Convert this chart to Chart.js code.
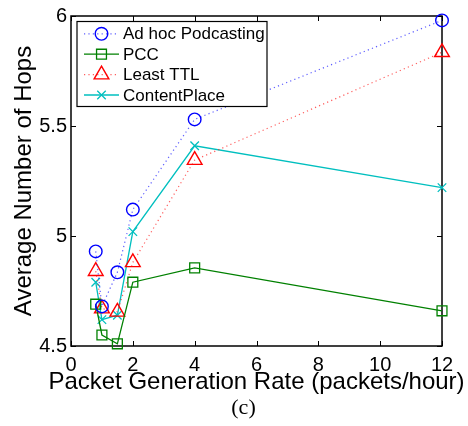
<!DOCTYPE html>
<html>
<head>
<meta charset="utf-8">
<script src="https://cdn.jsdelivr.net/npm/chart.js"></script>
<style>
  html, body { margin: 0; padding: 0; background: #fff; }
  canvas { display: block; }
</style>
</head>
<body>
<canvas id="hops" width="468" height="426"></canvas>
<script>
// packets per hour
const rates = [0.8, 1, 1.5, 2, 4, 12];

const adHocPodcasting = [4.93, 4.68, 4.835, 5.12, 5.53, 5.98];
const pcc = [4.69, 4.55, 4.51, 4.79, 4.855, 4.66];
const leastTTL = [4.84, 4.67, 4.655, 4.88, 5.345, 5.835];
const contentPlace = [4.79, 4.62, 4.64, 5.02, 5.41, 5.22];

const xTicks = [0, 2, 4, 6, 8, 10, 12];
const yTicks = [4.5, 5, 5.5, 6];

const toPoints = (vals) => rates.map((r, i) => ({x: r, y: vals[i]}));

const FONT = '"Liberation Sans", Arial, sans-serif';

// open markers, same geometry as Chart.js point styles
function drawMarker(ctx, style, r, x, y) {
  ctx.beginPath();
  if (style === 'circle') {
    ctx.arc(x, y, r, 0, Math.PI * 2);
  } else if (style === 'rect') {
    const s = r * Math.SQRT1_2;
    ctx.rect(x - s, y - s, 2 * s, 2 * s);
  } else if (style === 'triangle') {
    ctx.moveTo(x, y - r);
    ctx.lineTo(x + r * Math.cos(Math.PI / 6), y + r / 2);
    ctx.lineTo(x - r * Math.cos(Math.PI / 6), y + r / 2);
    ctx.closePath();
  } else if (style === 'crossRot') {
    const o = r * Math.SQRT1_2;
    ctx.moveTo(x - o, y - o); ctx.lineTo(x + o, y + o);
    ctx.moveTo(x - o, y + o); ctx.lineTo(x + o, y - o);
  }
  ctx.stroke();
}

const matlabLook = {
  id: 'matlabLook',
  beforeDatasetsDraw(chart) {
    const {ctx, chartArea: a, scales: {x, y}} = chart;
    ctx.save();
    ctx.strokeStyle = '#000';
    ctx.lineWidth = 1.5;
    ctx.strokeRect(a.left, a.top, a.right - a.left, a.bottom - a.top);
    ctx.lineWidth = 1;
    ctx.beginPath();
    xTicks.forEach(v => {
      const px = Math.round(x.getPixelForValue(v)) + 0.5;
      ctx.moveTo(px, a.bottom); ctx.lineTo(px, a.bottom - 5);
      ctx.moveTo(px, a.top); ctx.lineTo(px, a.top + 5);
    });
    yTicks.forEach(v => {
      const py = Math.round(y.getPixelForValue(v)) + 0.5;
      ctx.moveTo(a.left, py); ctx.lineTo(a.left + 5, py);
      ctx.moveTo(a.right, py); ctx.lineTo(a.right - 5, py);
    });
    ctx.stroke();
    ctx.restore();
  },
  afterDatasetsDraw(chart) {
    const {ctx, chartArea: a} = chart;
    const bx = a.left + 6, by = a.top + 5.5, bw = 190, bh = 85;
    ctx.save();
    ctx.fillStyle = '#fff';
    ctx.fillRect(bx, by, bw, bh);
    ctx.strokeStyle = '#000';
    ctx.lineWidth = 1.2;
    ctx.strokeRect(bx, by, bw, bh);
    chart.data.datasets.forEach((ds, i) => {
      const cy = by + 12.3 + i * 20.4;
      ctx.strokeStyle = ds.borderColor;
      ctx.lineWidth = ds.borderWidth;
      ctx.setLineDash(ds.borderDash || []);
      ctx.beginPath();
      ctx.moveTo(bx + 7, cy); ctx.lineTo(bx + 42, cy);
      ctx.stroke();
      ctx.setLineDash([]);
      ctx.strokeStyle = ds.pointBorderColor;
      ctx.lineWidth = ds.pointBorderWidth;
      drawMarker(ctx, ds.pointStyle, ds.pointRadius, bx + 24.5, cy);
      ctx.fillStyle = '#000';
      ctx.font = '17px ' + FONT;
      ctx.textBaseline = 'middle';
      ctx.textAlign = 'left';
      ctx.fillText(ds.label, bx + 46, cy + 1);
    });
    ctx.restore();
  },
  afterDraw(chart) {
    const {ctx, chartArea: a} = chart;
    ctx.save();
    ctx.fillStyle = '#000';
    ctx.textAlign = 'center';
    ctx.textBaseline = 'middle';
    // x label is wider than the plot, so draw it here instead of the scale title
    ctx.font = '24px ' + FONT;
    ctx.fillText('Packet Generation Rate (packets/hour)', (a.left + a.right) / 2, 382.5);
    ctx.font = '22px "Liberation Serif", "DejaVu Serif", serif';
    ctx.fillText('(c)', 243.5, 408);
    ctx.restore();
  }
};

const data = {
  datasets: [
    {
      label: 'Ad hoc Podcasting',
      data: toPoints(adHocPodcasting),
      borderColor: 'rgba(40,40,255,0.75)',
      borderWidth: 1.2,
      borderDash: [1.2, 3.2],
      pointStyle: 'circle',
      pointRadius: 6.3,
      pointBorderColor: '#0000ff',
      pointBorderWidth: 1.4
    },
    {
      label: 'PCC',
      data: toPoints(pcc),
      borderColor: '#008000',
      borderWidth: 1.3,
      pointStyle: 'rect',
      pointRadius: 7,
      pointBorderColor: '#008000',
      pointBorderWidth: 1.3
    },
    {
      label: 'Least TTL',
      data: toPoints(leastTTL),
      borderColor: 'rgba(255,40,40,0.75)',
      borderWidth: 1.2,
      borderDash: [1.2, 3.2],
      pointStyle: 'triangle',
      pointRadius: 8.5,
      pointBorderColor: '#ff0000',
      pointBorderWidth: 1.4
    },
    {
      label: 'ContentPlace',
      data: toPoints(contentPlace),
      borderColor: '#00bfbf',
      borderWidth: 1.3,
      pointStyle: 'crossRot',
      pointRadius: 6,
      pointBorderColor: '#00bfbf',
      pointBorderWidth: 1.3
    }
  ]
};

data.datasets.forEach(ds => {
  ds.pointBackgroundColor = 'rgba(0,0,0,0)';
  ds.pointHoverRadius = ds.pointRadius;
  ds.tension = 0;
  ds.fill = false;
  ds.clip = false;
});

const config = {
  type: 'line',
  data: data,
  options: {
    responsive: false,
    animation: false,
    events: [],
    layout: { padding: { top: 15.5, right: 26, bottom: 30, left: 0 } },
    plugins: {
      legend: { display: false },
      tooltip: { enabled: false }
    },
    scales: {
      x: {
        type: 'linear',
        min: 0,
        max: 12,
        afterFit: (scale) => { scale.height = 50; },
        afterBuildTicks: (scale) => { scale.ticks = xTicks.map(v => ({value: v})); },
        grid: { display: false, drawTicks: false },
        border: { display: false },
        ticks: { color: '#000', padding: 7, maxRotation: 0, font: { family: FONT, size: 20 } }
      },
      y: {
        type: 'linear',
        min: 4.5,
        max: 6,
        afterFit: (scale) => { scale.width = 71; },
        afterBuildTicks: (scale) => { scale.ticks = yTicks.map(v => ({value: v})); },
        grid: { display: false, drawTicks: false },
        border: { display: false },
        ticks: {
          color: '#000',
          padding: 4,
          font: { family: FONT, size: 20 },
          callback: (v) => String(v)
        },
        title: {
          display: true,
          text: 'Average Number of Hops',
          color: '#000',
          padding: { top: 10, bottom: 0 },
          font: { family: FONT, size: 24 }
        }
      }
    }
  },
  plugins: [matlabLook]
};

new Chart(document.getElementById('hops').getContext('2d'), config);
</script>
</body>
</html>
